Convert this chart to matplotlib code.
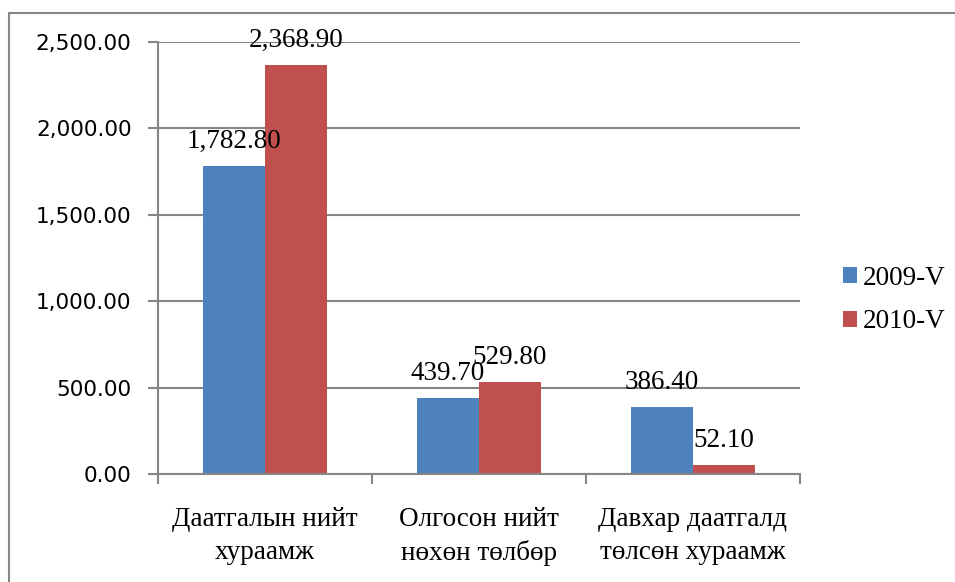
import numpy as np
import matplotlib
matplotlib.use('Agg')
import matplotlib.pyplot as plt
from matplotlib.patches import Rectangle

# data
categories = ['Даатгалын нийт\nхураамж', 'Олгосон нийт\nнөхөн төлбөр', 'Давхар даатгалд\nтөлсөн хураамж']
series_names = ['2009-V', '2010-V']
vals_2009 = [1782.8, 439.7, 386.4]
vals_2010 = [2368.9, 529.8, 52.1]
colors = ['#4F81BD', '#C0504D']

serif = 'Liberation Serif'
grey = '#868686'

fig = plt.figure(figsize=(9.55, 5.82), dpi=100)
ax = fig.add_axes([158/955, 108/582, 642/955, 432/582])

x = np.arange(len(categories))
w = 0.29
for i, (vals, name) in enumerate(zip([vals_2009, vals_2010], series_names)):
    bars = ax.bar(x + (i - 0.5) * w, vals, width=w, color=colors[i], label=name, zorder=3)
    for b, v in zip(bars, vals):
        ax.annotate(f'{v:,.2f}', (b.get_x() + b.get_width() / 2, v),
                    xytext=(0, 13), textcoords='offset points',
                    ha='center', va='baseline', fontsize=19.5, family=serif, zorder=4)

ax.set_xlim(-0.5, len(categories) - 0.5)
ax.set_ylim(0, 2500)
ax.set_yticks(np.arange(0, 2501, 500))
ax.set_yticklabels([f'{t:,.2f}' for t in np.arange(0, 2501, 500)], fontsize=15.5, family='DejaVu Sans')
ax.yaxis.grid(True, color=grey, lw=1.5, zorder=0)
ax.tick_params(axis='y', length=7, width=1.5, color=grey, pad=12)

ax.set_xticks(x)
ax.set_xticklabels(categories, fontsize=19.5, family=serif, linespacing=1.4)
ax.set_xticks(np.arange(-0.5, len(categories)), minor=True)
ax.tick_params(axis='x', which='major', length=0, pad=24)
ax.tick_params(axis='x', which='minor', length=7, width=1.5, color=grey)

for s in ['top', 'right']:
    ax.spines[s].set_visible(False)
for s in ['left', 'bottom']:
    ax.spines[s].set_color(grey)
    ax.spines[s].set_linewidth(1.5)
    ax.spines[s].set_zorder(5)

ax.legend(loc='center left', bbox_to_anchor=(819/955, (582-300)/582), bbox_transform=fig.transFigure,
          frameon=False, prop={'family': serif, 'size': 19.5},
          handlelength=0.5, handleheight=0.5, handletextpad=0.2, labelspacing=0.7)

# outer chart border
fig.add_artist(Rectangle((9/955, -0.1), 1.2, (582-13)/582 + 0.1, transform=fig.transFigure,
                         fill=False, edgecolor=grey, lw=1.5))

fig.savefig('out.png', dpi=100)
